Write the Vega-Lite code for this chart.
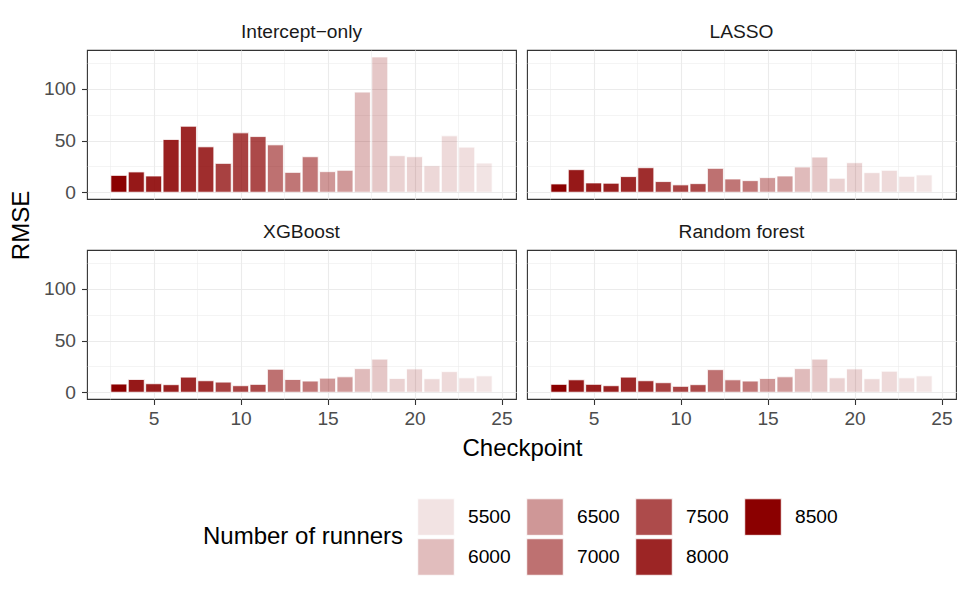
{
  "$schema": "https://vega.github.io/schema/vega-lite/v6.json",
  "padding": {"left": 8, "top": 22, "right": 12, "bottom": 26},
  "background": "white",
  "config": {
    "font": "Liberation Sans",
    "view": {"stroke": "#333333", "strokeWidth": 1.1},
    "title": {"fontSize": 19.2, "fontWeight": "normal", "color": "#1A1A1A", "anchor": "middle", "offset": 8},
    "axis": {
      "domain": false,
      "tickColor": "#333333",
      "tickWidth": 1.1,
      "tickSize": 5.5,
      "gridColor": "#EBEBEB",
      "labelFontSize": 19.2,
      "labelColor": "#4D4D4D",
      "titleFontSize": 24,
      "titleFontWeight": "normal",
      "titleColor": "black"
    },
    "bar": {"width": 16, "color": "#8B0000", "stroke": "white", "strokeWidth": 0.8}
  },
  "data": {
    "values": [
      {"model": "Intercept−only", "checkpoint": 3, "runners": 8500, "rmse": 16.3},
      {"model": "Intercept−only", "checkpoint": 4, "runners": 8170, "rmse": 19.6},
      {"model": "Intercept−only", "checkpoint": 5, "runners": 8100, "rmse": 15.7},
      {"model": "Intercept−only", "checkpoint": 6, "runners": 8070, "rmse": 51.0},
      {"model": "Intercept−only", "checkpoint": 7, "runners": 7970, "rmse": 63.8},
      {"model": "Intercept−only", "checkpoint": 8, "runners": 7900, "rmse": 43.9},
      {"model": "Intercept−only", "checkpoint": 9, "runners": 7630, "rmse": 27.9},
      {"model": "Intercept−only", "checkpoint": 10, "runners": 7600, "rmse": 57.4},
      {"model": "Intercept−only", "checkpoint": 11, "runners": 7530, "rmse": 53.8},
      {"model": "Intercept−only", "checkpoint": 12, "runners": 7000, "rmse": 45.8},
      {"model": "Intercept−only", "checkpoint": 13, "runners": 6930, "rmse": 19.2},
      {"model": "Intercept−only", "checkpoint": 14, "runners": 6920, "rmse": 34.3},
      {"model": "Intercept−only", "checkpoint": 15, "runners": 6500, "rmse": 19.9},
      {"model": "Intercept−only", "checkpoint": 16, "runners": 6470, "rmse": 21.2},
      {"model": "Intercept−only", "checkpoint": 17, "runners": 6030, "rmse": 96.8},
      {"model": "Intercept−only", "checkpoint": 18, "runners": 5870, "rmse": 130.8},
      {"model": "Intercept−only", "checkpoint": 19, "runners": 5730, "rmse": 35.3},
      {"model": "Intercept−only", "checkpoint": 20, "runners": 5720, "rmse": 34.3},
      {"model": "Intercept−only", "checkpoint": 21, "runners": 5650, "rmse": 25.6},
      {"model": "Intercept−only", "checkpoint": 22, "runners": 5620, "rmse": 54.5},
      {"model": "Intercept−only", "checkpoint": 23, "runners": 5560, "rmse": 43.6},
      {"model": "Intercept−only", "checkpoint": 24, "runners": 5480, "rmse": 28.2},
      {"model": "LASSO", "checkpoint": 3, "runners": 8500, "rmse": 8.0},
      {"model": "LASSO", "checkpoint": 4, "runners": 8170, "rmse": 21.8},
      {"model": "LASSO", "checkpoint": 5, "runners": 8100, "rmse": 9.0},
      {"model": "LASSO", "checkpoint": 6, "runners": 8070, "rmse": 8.7},
      {"model": "LASSO", "checkpoint": 7, "runners": 7970, "rmse": 15.1},
      {"model": "LASSO", "checkpoint": 8, "runners": 7900, "rmse": 23.7},
      {"model": "LASSO", "checkpoint": 9, "runners": 7630, "rmse": 10.3},
      {"model": "LASSO", "checkpoint": 10, "runners": 7600, "rmse": 7.1},
      {"model": "LASSO", "checkpoint": 11, "runners": 7530, "rmse": 8.3},
      {"model": "LASSO", "checkpoint": 12, "runners": 7000, "rmse": 23.1},
      {"model": "LASSO", "checkpoint": 13, "runners": 6930, "rmse": 12.8},
      {"model": "LASSO", "checkpoint": 14, "runners": 6920, "rmse": 11.2},
      {"model": "LASSO", "checkpoint": 15, "runners": 6500, "rmse": 14.1},
      {"model": "LASSO", "checkpoint": 16, "runners": 6470, "rmse": 15.7},
      {"model": "LASSO", "checkpoint": 17, "runners": 6030, "rmse": 24.4},
      {"model": "LASSO", "checkpoint": 18, "runners": 5870, "rmse": 34.0},
      {"model": "LASSO", "checkpoint": 19, "runners": 5730, "rmse": 13.5},
      {"model": "LASSO", "checkpoint": 20, "runners": 5720, "rmse": 28.5},
      {"model": "LASSO", "checkpoint": 21, "runners": 5650, "rmse": 18.9},
      {"model": "LASSO", "checkpoint": 22, "runners": 5620, "rmse": 21.2},
      {"model": "LASSO", "checkpoint": 23, "runners": 5560, "rmse": 15.4},
      {"model": "LASSO", "checkpoint": 24, "runners": 5480, "rmse": 16.7},
      {"model": "XGBoost", "checkpoint": 3, "runners": 8500, "rmse": 7.9},
      {"model": "XGBoost", "checkpoint": 4, "runners": 8170, "rmse": 12.3},
      {"model": "XGBoost", "checkpoint": 5, "runners": 8100, "rmse": 8.2},
      {"model": "XGBoost", "checkpoint": 6, "runners": 8070, "rmse": 7.3},
      {"model": "XGBoost", "checkpoint": 7, "runners": 7970, "rmse": 14.6},
      {"model": "XGBoost", "checkpoint": 8, "runners": 7900, "rmse": 11.1},
      {"model": "XGBoost", "checkpoint": 9, "runners": 7630, "rmse": 9.8},
      {"model": "XGBoost", "checkpoint": 10, "runners": 7600, "rmse": 6.3},
      {"model": "XGBoost", "checkpoint": 11, "runners": 7530, "rmse": 7.6},
      {"model": "XGBoost", "checkpoint": 12, "runners": 7000, "rmse": 22.2},
      {"model": "XGBoost", "checkpoint": 13, "runners": 6930, "rmse": 12.3},
      {"model": "XGBoost", "checkpoint": 14, "runners": 6920, "rmse": 10.8},
      {"model": "XGBoost", "checkpoint": 15, "runners": 6500, "rmse": 13.6},
      {"model": "XGBoost", "checkpoint": 16, "runners": 6470, "rmse": 14.9},
      {"model": "XGBoost", "checkpoint": 17, "runners": 6030, "rmse": 22.8},
      {"model": "XGBoost", "checkpoint": 18, "runners": 5870, "rmse": 32.0},
      {"model": "XGBoost", "checkpoint": 19, "runners": 5730, "rmse": 13.3},
      {"model": "XGBoost", "checkpoint": 20, "runners": 5720, "rmse": 22.5},
      {"model": "XGBoost", "checkpoint": 21, "runners": 5650, "rmse": 13.0},
      {"model": "XGBoost", "checkpoint": 22, "runners": 5620, "rmse": 19.9},
      {"model": "XGBoost", "checkpoint": 23, "runners": 5560, "rmse": 13.9},
      {"model": "XGBoost", "checkpoint": 24, "runners": 5480, "rmse": 15.8},
      {"model": "Random forest", "checkpoint": 3, "runners": 8500, "rmse": 7.6},
      {"model": "Random forest", "checkpoint": 4, "runners": 8170, "rmse": 12.0},
      {"model": "Random forest", "checkpoint": 5, "runners": 8100, "rmse": 7.6},
      {"model": "Random forest", "checkpoint": 6, "runners": 8070, "rmse": 6.3},
      {"model": "Random forest", "checkpoint": 7, "runners": 7970, "rmse": 14.6},
      {"model": "Random forest", "checkpoint": 8, "runners": 7900, "rmse": 11.1},
      {"model": "Random forest", "checkpoint": 9, "runners": 7630, "rmse": 9.2},
      {"model": "Random forest", "checkpoint": 10, "runners": 7600, "rmse": 5.7},
      {"model": "Random forest", "checkpoint": 11, "runners": 7530, "rmse": 7.3},
      {"model": "Random forest", "checkpoint": 12, "runners": 7000, "rmse": 21.8},
      {"model": "Random forest", "checkpoint": 13, "runners": 6930, "rmse": 12.0},
      {"model": "Random forest", "checkpoint": 14, "runners": 6920, "rmse": 10.8},
      {"model": "Random forest", "checkpoint": 15, "runners": 6500, "rmse": 13.3},
      {"model": "Random forest", "checkpoint": 16, "runners": 6470, "rmse": 14.9},
      {"model": "Random forest", "checkpoint": 17, "runners": 6030, "rmse": 22.8},
      {"model": "Random forest", "checkpoint": 18, "runners": 5870, "rmse": 32.0},
      {"model": "Random forest", "checkpoint": 19, "runners": 5730, "rmse": 13.9},
      {"model": "Random forest", "checkpoint": 20, "runners": 5720, "rmse": 22.5},
      {"model": "Random forest", "checkpoint": 21, "runners": 5650, "rmse": 13.0},
      {"model": "Random forest", "checkpoint": 22, "runners": 5620, "rmse": 20.3},
      {"model": "Random forest", "checkpoint": 23, "runners": 5560, "rmse": 13.9},
      {"model": "Random forest", "checkpoint": 24, "runners": 5480, "rmse": 15.8}
    ]
  },
  "bounds": "flush",
  "columns": 2,
  "spacing": {"row": 51, "column": 11},
  "resolve": {"scale": {"opacity": "shared"}},
  "concat": [
    {
      "title": "Intercept−only",
      "width": 429,
      "height": 149,
      "transform": [{"filter": "datum.model === 'Intercept−only'"}],
      "mark": "bar",
      "encoding": {
        "x": {
          "field": "checkpoint", "type": "quantitative", "title": null,
          "scale": {"domain": [1.455, 25.545], "nice": false, "zero": false},
          "axis": {
            "values": [2.5, 5, 7.5, 10, 12.5, 15, 17.5, 20, 22.5, 25],
            "labels": false, "ticks": false,
            "gridWidth": {"condition": {"test": "datum.value % 5 === 0", "value": 1.1}, "value": 0.55}
          }
        },
        "y": {
          "field": "rmse", "type": "quantitative", "title": "RMSE",
          "scale": {"domain": [-6.55, 137.5], "nice": false},
          "axis": {
            "values": [0, 25, 50, 75, 100, 125],
            "labelExpr": "datum.value % 50 === 0 ? datum.label : ''",
            "tickOpacity": {"condition": {"test": "datum.value % 50 === 0", "value": 1}, "value": 0},
            "gridWidth": {"condition": {"test": "datum.value % 50 === 0", "value": 1.1}, "value": 0.55},
            "labelPadding": 6,
            "titlePadding": 10,
            "titleY": 175
          }
        },
        "opacity": {
          "field": "runners", "type": "quantitative", "title": "Number of runners",
          "scale": {"domain": [5480, 8500], "range": [0.1, 1]},
          "legend": {
            "orient": "none",
            "legendX": 116,
            "legendY": 448,
            "direction": "horizontal",
            "columns": 4,
            "values": [5500, 6500, 7500, 8500, 6000, 7000, 8000],
            "format": "d",
            "symbolType": "square",
            "symbolSize": 1332,
            "symbolFillColor": "#8B0000",
            "symbolStrokeWidth": 0,
            "labelOffset": 13,
            "columnPadding": 14,
            "rowPadding": 0,
            "labelFontSize": 19.2,
            "labelColor": "black",
            "titleOrient": "left",
            "titleAnchor": "middle",
            "titleBaseline": "middle",
            "titleFontSize": 24,
            "titleFontWeight": "normal",
            "titleColor": "black",
            "titleLimit": 400,
            "titlePadding": 13
          }
        }
      }
    },
    {
      "title": "LASSO",
      "width": 429,
      "height": 149,
      "transform": [{"filter": "datum.model === 'LASSO'"}],
      "mark": "bar",
      "encoding": {
        "x": {
          "field": "checkpoint", "type": "quantitative", "title": null,
          "scale": {"domain": [1.455, 25.545], "nice": false, "zero": false},
          "axis": {
            "values": [2.5, 5, 7.5, 10, 12.5, 15, 17.5, 20, 22.5, 25],
            "labels": false, "ticks": false,
            "gridWidth": {"condition": {"test": "datum.value % 5 === 0", "value": 1.1}, "value": 0.55}
          }
        },
        "y": {
          "field": "rmse", "type": "quantitative", "title": null,
          "scale": {"domain": [-6.55, 137.5], "nice": false},
          "axis": {
            "values": [0, 25, 50, 75, 100, 125],
            "labels": false, "ticks": false,
            "gridWidth": {"condition": {"test": "datum.value % 50 === 0", "value": 1.1}, "value": 0.55}
          }
        },
        "opacity": {
          "field": "runners", "type": "quantitative",
          "scale": {"domain": [5480, 8500], "range": [0.1, 1]},
          "legend": null
        }
      }
    },
    {
      "title": "XGBoost",
      "width": 429,
      "height": 149,
      "transform": [{"filter": "datum.model === 'XGBoost'"}],
      "mark": "bar",
      "encoding": {
        "x": {
          "field": "checkpoint", "type": "quantitative", "title": "Checkpoint",
          "scale": {"domain": [1.455, 25.545], "nice": false, "zero": false},
          "axis": {
            "values": [2.5, 5, 7.5, 10, 12.5, 15, 17.5, 20, 22.5, 25],
            "labelExpr": "datum.value % 5 === 0 ? datum.label : ''",
            "tickOpacity": {"condition": {"test": "datum.value % 5 === 0", "value": 1}, "value": 0},
            "gridWidth": {"condition": {"test": "datum.value % 5 === 0", "value": 1.1}, "value": 0.55},
            "labelPadding": 5,
            "titlePadding": 8,
            "titleX": 435
          }
        },
        "y": {
          "field": "rmse", "type": "quantitative", "title": null,
          "scale": {"domain": [-6.55, 137.5], "nice": false},
          "axis": {
            "values": [0, 25, 50, 75, 100, 125],
            "labelExpr": "datum.value % 50 === 0 ? datum.label : ''",
            "tickOpacity": {"condition": {"test": "datum.value % 50 === 0", "value": 1}, "value": 0},
            "gridWidth": {"condition": {"test": "datum.value % 50 === 0", "value": 1.1}, "value": 0.55},
            "labelPadding": 6
          }
        },
        "opacity": {
          "field": "runners", "type": "quantitative",
          "scale": {"domain": [5480, 8500], "range": [0.1, 1]},
          "legend": null
        }
      }
    },
    {
      "title": "Random forest",
      "width": 429,
      "height": 149,
      "transform": [{"filter": "datum.model === 'Random forest'"}],
      "mark": "bar",
      "encoding": {
        "x": {
          "field": "checkpoint", "type": "quantitative", "title": null,
          "scale": {"domain": [1.455, 25.545], "nice": false, "zero": false},
          "axis": {
            "values": [2.5, 5, 7.5, 10, 12.5, 15, 17.5, 20, 22.5, 25],
            "labelExpr": "datum.value % 5 === 0 ? datum.label : ''",
            "tickOpacity": {"condition": {"test": "datum.value % 5 === 0", "value": 1}, "value": 0},
            "gridWidth": {"condition": {"test": "datum.value % 5 === 0", "value": 1.1}, "value": 0.55},
            "labelPadding": 5
          }
        },
        "y": {
          "field": "rmse", "type": "quantitative", "title": null,
          "scale": {"domain": [-6.55, 137.5], "nice": false},
          "axis": {
            "values": [0, 25, 50, 75, 100, 125],
            "labels": false, "ticks": false,
            "gridWidth": {"condition": {"test": "datum.value % 50 === 0", "value": 1.1}, "value": 0.55}
          }
        },
        "opacity": {
          "field": "runners", "type": "quantitative",
          "scale": {"domain": [5480, 8500], "range": [0.1, 1]},
          "legend": null
        }
      }
    }
  ]
}
